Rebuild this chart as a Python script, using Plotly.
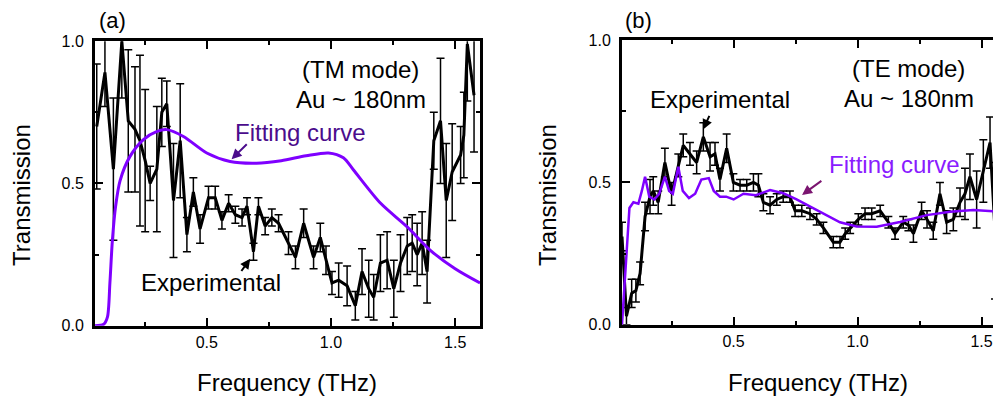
import plotly.graph_objects as go

# ---------------- data ----------------
# Panel (a): TM mode, experimental
freq_a = [0.057,0.090,0.124,0.158,0.184,0.211,0.231,0.252,0.272,0.299,0.319,0.339,0.366,0.393,0.420,
          0.446,0.473,0.507,0.534,0.561,0.588,0.615,0.642,0.662,0.688,0.708,0.735,0.762,0.789,0.829,
          0.857,0.890,0.930,0.957,0.980,1.004,1.031,1.065,1.098,1.125,1.152,1.172,1.199,1.226,1.253,
          1.280,1.307,1.327,1.347,1.367,1.387,1.414,1.441,1.464,1.488,1.522,1.535,1.549,1.576]
trans_a = [0.70,0.89,0.55,1.00,0.72,0.69,0.65,0.58,0.50,0.55,0.75,0.78,0.44,0.65,0.32,
           0.47,0.34,0.45,0.45,0.37,0.43,0.39,0.38,0.42,0.26,0.42,0.35,0.38,0.36,0.29,
           0.24,0.36,0.24,0.31,0.23,0.15,0.16,0.14,0.07,0.19,0.13,0.10,0.22,0.23,0.13,
           0.22,0.28,0.29,0.25,0.29,0.19,0.65,0.72,0.44,0.54,0.60,0.67,0.99,0.81]
err_a = [0.22,0.12,0.25,0.20,0.25,0.22,0.30,0.25,0.06,0.22,0.12,0.08,0.20,0.20,0.06,
         0.05,0.05,0.04,0.04,0.03,0.03,0.03,0.03,0.03,0.03,0.03,0.03,0.03,0.03,0.04,
         0.04,0.05,0.04,0.05,0.05,0.04,0.06,0.07,0.05,0.08,0.10,0.08,0.10,0.10,0.10,
         0.10,0.10,0.10,0.11,0.11,0.11,0.10,0.22,0.20,0.17,0.10,0.15,0.20,0.20]

# Panel (a): fitting curve
fit_freq_a = [0.050,0.085,0.100,0.110,0.120,0.133,0.151,0.191,0.245,0.300,0.339,0.406,0.500,0.594,
              0.700,0.800,0.900,0.990,1.050,1.090,1.200,1.307,1.400,1.500,1.600]
fit_trans_a = [0.0,0.005,0.03,0.15,0.30,0.42,0.51,0.595,0.654,0.683,0.689,0.665,0.607,0.577,
               0.571,0.580,0.597,0.607,0.590,0.548,0.43,0.347,0.265,0.20,0.15]

# Panel (b): TE mode, experimental
freq_b = [0.050,0.068,0.089,0.106,0.123,0.143,0.163,0.176,0.196,0.223,0.250,0.277,0.297,0.324,0.351,
          0.378,0.405,0.425,0.445,0.472,0.499,0.526,0.553,0.580,0.600,0.620,0.647,0.674,0.700,0.727,
          0.748,0.775,0.808,0.835,0.862,0.902,0.929,0.950,0.970,1.003,1.030,1.057,1.091,1.124,1.151,
          1.184,1.205,1.225,1.258,1.280,1.305,1.332,1.359,1.386,1.413,1.433,1.453,1.480,1.507,1.534,
          1.554,1.572]
trans_b = [0.31,0.03,0.11,0.12,0.18,0.38,0.45,0.47,0.43,0.57,0.46,0.56,0.63,0.60,0.57,
           0.66,0.59,0.60,0.51,0.62,0.50,0.49,0.49,0.50,0.49,0.43,0.42,0.44,0.45,0.45,
           0.40,0.40,0.39,0.37,0.34,0.29,0.29,0.32,0.34,0.37,0.39,0.39,0.40,0.36,0.32,
           0.36,0.35,0.32,0.40,0.37,0.33,0.46,0.36,0.37,0.43,0.46,0.52,0.44,0.54,0.64,
           0.33,0.70]
err_b = [0.05,0.03,0.05,0.04,0.04,0.05,0.06,0.05,0.04,0.05,0.04,0.04,0.04,0.04,0.04,
         0.05,0.05,0.04,0.04,0.05,0.03,0.02,0.02,0.03,0.04,0.03,0.03,0.02,0.02,0.02,
         0.02,0.02,0.02,0.02,0.02,0.02,0.02,0.02,0.02,0.02,0.02,0.02,0.02,0.02,0.02,
         0.02,0.02,0.03,0.03,0.03,0.03,0.04,0.04,0.04,0.05,0.09,0.08,0.10,0.11,0.09,
         0.24,0.25]

# Panel (b): fitting curve
fit_freq_b = [0.050,0.065,0.080,0.096,0.116,0.130,0.143,0.160,0.180,0.200,0.223,0.240,0.255,0.277,
              0.295,0.320,0.345,0.370,0.400,0.420,0.445,0.470,0.500,0.540,0.590,0.647,0.700,0.754,
              0.808,0.848,0.929,0.996,1.077,1.171,1.279,1.373,1.467,1.574,1.610]
fit_trans_b = [0.00,0.20,0.41,0.43,0.425,0.47,0.52,0.45,0.44,0.46,0.52,0.47,0.46,0.555,
               0.47,0.445,0.46,0.51,0.515,0.47,0.45,0.45,0.44,0.46,0.455,0.473,0.462,0.44,
               0.415,0.397,0.36,0.345,0.344,0.361,0.385,0.397,0.403,0.397,0.395]

x_ticks = [0.5, 1.0, 1.5]
x_tick_text = ["0.5", "1.0", "1.5"]
y_ticks = [0.0, 0.5, 1.0]
y_tick_text = ["0.0", "0.5", "1.0"]

FONT = "Liberation Sans, Arial, sans-serif"
PURPLE = "#7F00FF"

fig = go.Figure()

def exp_trace(x, y, e, xa, ya):
    return go.Scatter(x=x, y=y, xaxis=xa, yaxis=ya, mode="lines",
                      line=dict(color="black", width=3),
                      error_y=dict(type="data", array=e, visible=True, color="black",
                                   thickness=1.5, width=4),
                      showlegend=False, hoverinfo="skip")

fig.add_trace(exp_trace(freq_a, trans_a, err_a, "x", "y"))
fig.add_trace(go.Scatter(x=fit_freq_a, y=fit_trans_a, xaxis="x", yaxis="y", mode="lines",
                         line=dict(color=PURPLE, width=3, shape="spline", smoothing=0.8),
                         showlegend=False, hoverinfo="skip"))
fig.add_trace(exp_trace(freq_b, trans_b, err_b, "x2", "y2"))
fig.add_trace(go.Scatter(x=fit_freq_b, y=fit_trans_b, xaxis="x2", yaxis="y2", mode="lines",
                         line=dict(color=PURPLE, width=2.5),
                         showlegend=False, hoverinfo="skip"))

# figure size and the measured mapping from figure pixels to the photographed window
W, H = 1001, 397
X_OFF, Y_OFF, Y_SCALE = 8.0, 17.0, 0.952
def px_x(p): return (p - X_OFF) / W                       # window pixel -> paper x
def px_y(p): return 1.0 - ((p - Y_OFF) / Y_SCALE) / H     # window pixel -> paper y

axis_common = dict(showline=True, linecolor="black", linewidth=3, ticks="inside",
                   ticklen=8, tickwidth=2, tickcolor="black", showgrid=False, zeroline=False,
                   tickfont=dict(family=FONT, size=16, color="black"),
                   minor=dict(ticks="inside", ticklen=4, tickwidth=2, tickcolor="black", dtick=0.25,
                              tick0=0, showgrid=False))

b_right_px = X_OFF + W  # right edge of panel (b) lies beyond the window edge (clipped like the original)
fig.update_layout(
    width=W, height=H, margin=dict(l=0, r=0, t=0, b=0),
    paper_bgcolor="white", plot_bgcolor="white",
    font=dict(family=FONT, color="black"),
    xaxis=dict(domain=[px_x(95), px_x(480)], range=[0.05, 1.6], anchor="y",
               tickvals=x_ticks, ticktext=x_tick_text, mirror="allticks", **axis_common),
    yaxis=dict(domain=[px_y(325), px_y(42)], range=[0, 1.0], anchor="x",
               tickvals=y_ticks, ticktext=y_tick_text, mirror="allticks", ticklabelstandoff=5,
               **axis_common),
    xaxis2=dict(domain=[px_x(622), 1.0], range=[0.05, 0.05 + (b_right_px - 622) / 248.0],
                anchor="y2", tickvals=x_ticks, ticktext=x_tick_text, mirror="allticks", **axis_common),
    yaxis2=dict(domain=[px_y(324), px_y(41)], range=[0, 1.0], anchor="x2",
                tickvals=y_ticks, ticktext=y_tick_text, mirror=False, ticklabelstandoff=5,
                **axis_common),
)

ann = []
def txt(text, x, y, xref, yref, size=24, color="black", angle=0):
    ann.append(dict(text=text, x=x, y=y, xref=xref, yref=yref, showarrow=False,
                    font=dict(family=FONT, size=size, color=color), textangle=angle,
                    xanchor="center", yanchor="middle"))

def arrow(x, y, ax, ay, xref, yref, color):
    ann.append(dict(text="", x=x, y=y, ax=ax, ay=ay, xref=xref, yref=yref, axref=xref, ayref=yref,
                    showarrow=True, arrowhead=2, arrowsize=1, arrowwidth=2, arrowcolor=color,
                    standoff=0, startstandoff=0))

# axis titles and panel labels
txt("Transmission", px_x(22), px_y(195), "paper", "paper", angle=-90)
txt("Transmission", px_x(548), px_y(195), "paper", "paper", angle=-90)
txt("Frequency (THz)", px_x(287), px_y(382), "paper", "paper")
txt("Frequency (THz)", px_x(818), px_y(382), "paper", "paper")
txt("(a)", px_x(112), px_y(21), "paper", "paper", size=22)
txt("(b)", px_x(638), px_y(21), "paper", "paper", size=22)

# panel (a) annotations
txt("(TM mode)", 1.119, 0.901, "x", "y")
txt("Au ~ 180nm", 1.119, 0.795, "x", "y")
txt("Fitting curve", 0.879, 0.678, "x", "y", color="#4B0C8C")
arrow(0.60, 0.585, 0.667, 0.643, "x", "y", "#4B0C8C")
txt("Experimental", 0.518, 0.152, "x", "y")
arrow(0.675, 0.235, 0.635, 0.187, "x", "y", "black")

# panel (b) annotations
txt("Experimental", 0.445, 0.792, "x2", "y2")
arrow(0.377, 0.686, 0.405, 0.739, "x2", "y2", "black")
txt("(TE mode)", 1.207, 0.901, "x2", "y2")
txt("Au ~ 180nm", 1.207, 0.795, "x2", "y2")
txt("Fitting curve", 1.147, 0.562, "x2", "y2", color="#8A1CFF")
arrow(0.776, 0.456, 0.86, 0.509, "x2", "y2", "#7B1570")

fig.update_layout(annotations=ann)
fig.write_html("out.html")
